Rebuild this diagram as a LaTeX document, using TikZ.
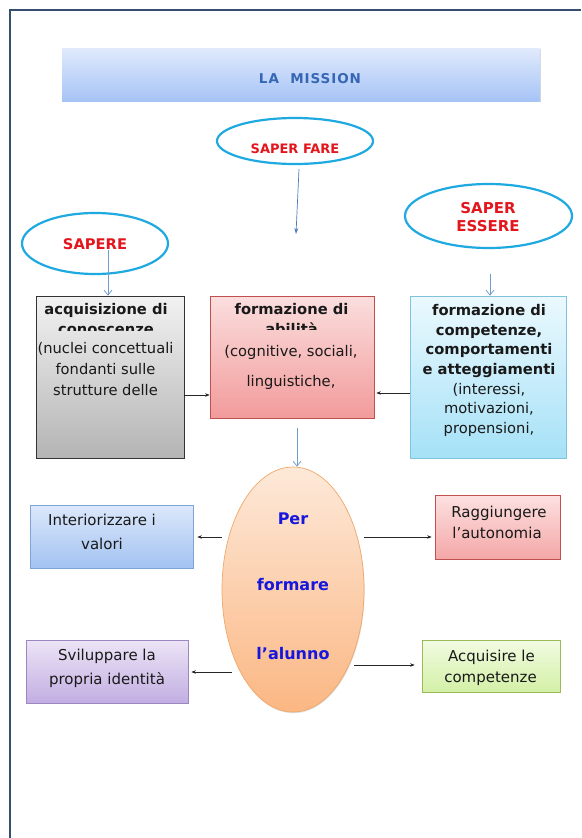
\documentclass[tikz,border=0pt]{standalone}
\usepackage{fontspec}
\setmainfont{DejaVu Sans}
\usetikzlibrary{arrows.meta,shadows,shapes.geometric}
\definecolor{framec}{HTML}{34506E}
\definecolor{ellc}{HTML}{1FA9E1}
\definecolor{sred}{HTML}{E3161D}
\definecolor{sblue}{HTML}{1616DC}
\definecolor{arrb}{HTML}{4F7BBE}
\definecolor{arrl}{HTML}{6E9BD0}
\definecolor{titc}{HTML}{3766B5}
\tikzset{
  framel/.style={draw=framec, line width=1.3pt},
  skill/.style={ellipse, draw=ellc, line width=2.2pt, fill=white, inner sep=0pt},
  skilltxt/.style={inner sep=0pt, text=sred, font=\fontsize{13}{15}\selectfont\bfseries, align=center},
  box/.style={rectangle, inner sep=0pt, line width=0.7pt,
    drop shadow={shadow xshift=0.8pt, shadow yshift=-1.3pt, opacity=0.3}},
  btxt/.style={inner sep=0pt, anchor=base, text=black!90, font=\fontsize{14.7}{18}\selectfont},
  bhead/.style={btxt, font=\fontsize{14.7}{18}\selectfont\bfseries},
  otxt/.style={inner sep=0pt, anchor=base, text=black!90, font=\fontsize{15}{18}\selectfont},
  blutxt/.style={inner sep=0pt, text=sblue, font=\fontsize{16}{18}\selectfont\bfseries},
  blk/.style={draw=black!85, line width=0.6pt, -{Stealth[length=4.5pt,width=3.5pt]}},
  fillarr/.style={draw=arrb, line width=0.7pt, -{Stealth[length=6pt,width=4pt]}},
  openarr/.style={draw=arrl, line width=0.7pt, -{Straight Barb[length=5pt,width=8pt]}},
}
\begin{document}
\begin{tikzpicture}[x=1pt,y=-1pt]
\useasboundingbox (0,0) rectangle (581,838);
\fill[white] (0,0) rectangle (581,838);
\draw[framel] (10,838) -- (10,10) -- (581,10);

% title
\node[box, top color={rgb,255:red,224;green,234;blue,252}, bottom color={rgb,255:red,166;green,196;blue,246}, draw=none, minimum width=478pt, minimum height=53pt] (title) at (301,74.5) {};
\node[inner sep=0pt, text=titc, font=\fontsize{13.5}{15}\selectfont\bfseries\addfontfeatures{LetterSpace=7}] (titletxt) at (310,79) {LA\ \ MISSION};

% skill ellipses
\node[skill, minimum width=156pt, minimum height=46pt] (sf) at (295,141) {};
\node[skilltxt] (sftxt) at (295,149) {SAPER FARE};
\node[skill, minimum width=146pt, minimum height=61pt] (sa) at (95,243.5) {};
\node[skilltxt, font=\fontsize{14.7}{16}\selectfont\bfseries] (satxt) at (95,244) {SAPERE};
\node[skill, minimum width=167pt, minimum height=64pt] (se) at (488.5,216) {};
\node[skilltxt, font=\fontsize{15}{18}\selectfont\bfseries] (setxt) at (488,217.5) {SAPER\\ESSERE};

% three boxes
\node[box, top color={rgb,255:red,242;green,242;blue,242}, bottom color={rgb,255:red,180;green,180;blue,180}, draw=black!80, minimum width=148pt, minimum height=162pt] (b1) at (110,377) {};
\node[box, top color={rgb,255:red,251;green,222;blue,222}, bottom color={rgb,255:red,242;green,155;blue,155}, draw={rgb,255:red,192;green,80;blue,77}, minimum width=164pt, minimum height=122pt] (b2) at (292,357) {};
\node[box, top color={rgb,255:red,235;green,249;blue,254}, bottom color={rgb,255:red,165;green,225;blue,247}, draw={rgb,255:red,127;green,195;blue,221}, minimum width=156pt, minimum height=162pt] (b3) at (488,377) {};

% box1 text
\node[bhead] (b1h) at (106,314.3) {acquisizione di};
\begin{scope}
\clip (37,300) rectangle (183,330.3);
\node[bhead] (b1c) at (106,334.5) {conoscenze};
\end{scope}
\node[btxt] (b1l1) at (105.5,353.3) {(nuclei concettuali};
\node[btxt] (b1l2) at (105.5,374.2) {fondanti sulle};
\node[btxt] (b1l3) at (105.5,395) {strutture delle};

% box2 text
\node[bhead] (b2h) at (291.5,314.3) {formazione di};
\begin{scope}
\clip (211,300) rectangle (373,329.3);
\node[bhead] (b2c) at (291.5,334) {abilità};
\end{scope}
\node[btxt] (b2l1) at (291,356.7) {(cognitive, sociali,};
\node[btxt] (b2l2) at (291,386.7) {linguistiche,};

% box3 text
\node[bhead] (b3l1) at (489,315.7) {formazione di};
\node[bhead] (b3l2) at (489,335.3) {competenze,};
\node[bhead] (b3l3) at (489,354.9) {comportamenti};
\node[bhead] (b3l4) at (489,374.5) {e atteggiamenti};
\node[btxt] (b3l5) at (489,394.1) {(interessi,};
\node[btxt] (b3l6) at (489,413.7) {motivazioni,};
\node[btxt] (b3l7) at (489,433.3) {propensioni,};

% big ellipse
\node[ellipse, inner sep=0pt, top color={rgb,255:red,253;green,233;blue,217}, bottom color={rgb,255:red,251;green,183;blue,131}, draw={rgb,255:red,240;green,168;blue,104}, line width=0.7pt, minimum width=142pt, minimum height=245pt,
  drop shadow={shadow xshift=0.6pt, shadow yshift=-1.2pt, opacity=0.25}] (ell) at (293,589.5) {};
\node[blutxt] (per) at (293,519) {Per};
\node[blutxt] (form) at (293,585) {formare};
\node[blutxt] (alun) at (293,654) {l’alunno};

% outcome boxes
\node[box, top color={rgb,255:red,220;green,232;blue,251}, bottom color={rgb,255:red,163;green,194;blue,242}, draw={rgb,255:red,127;green,164;blue,214}, minimum width=163pt, minimum height=63pt] (intb) at (111.5,536.5) {};
\node[otxt] (intl1) at (102,525.7) {Interiorizzare i};
\node[otxt] (intl2) at (102,549.3) {valori};
\node[box, top color={rgb,255:red,253;green,225;blue,225}, bottom color={rgb,255:red,244;green,167;blue,167}, draw={rgb,255:red,192;green,80;blue,77}, minimum width=125pt, minimum height=64pt] (ragb) at (497.5,527) {};
\node[otxt] (ragl1) at (499,517.7) {Raggiungere};
\node[otxt] (ragl2) at (497,538.5) {l’autonomia};
\node[box, top color={rgb,255:red,236;green,228;blue,246}, bottom color={rgb,255:red,194;green,174;blue,226}, draw={rgb,255:red,156;green,134;blue,194}, minimum width=162pt, minimum height=63pt] (svib) at (107,671.5) {};
\node[otxt] (svil1) at (107,660.7) {Sviluppare la};
\node[otxt] (svil2) at (107,684.3) {propria identità};
\node[box, top color={rgb,255:red,242;green,251;blue,226}, bottom color={rgb,255:red,211;green,240;blue,166}, draw={rgb,255:red,155;green,187;blue,89}, minimum width=138pt, minimum height=52pt] (acqb) at (491,666) {};
\node[otxt] (acql1) at (491.5,661.7) {Acquisire le};
\node[otxt] (acql2) at (490.5,682.7) {competenze};

% connectors
\coordinate (sfend) at (296,234);
\draw[fillarr] ([xshift=4pt,yshift=-4pt]sf.south) -- (sfend);
\coordinate (sastart) at (108,250);
\draw[openarr] (sastart) -- (sastart |- b1.north);
\coordinate (sestart) at (490,274);
\draw[openarr] (sestart) -- (sestart |- b3.north);
\draw[blk] (b1.east |- 0,395) -- (b2.west |- 0,395);
\draw[blk] (b3.west |- 0,393) -- ([xshift=2pt]b2.east |- 0,393);
\coordinate (b2start) at (297,428);
\draw[openarr] (b2start) -- (b2start |- ell.north);
\draw[blk] (ell.west |- 0,537) -- ([xshift=4pt]intb.east |- 0,537);
\draw[blk] (ell.east |- 0,537) -- ([xshift=-3pt]ragb.west |- 0,537);
\draw[blk] ([xshift=10pt]ell.west |- 0,672) -- ([xshift=3pt]svib.east |- 0,672);
\draw[blk] ([xshift=-10pt]ell.east |- 0,665) -- ([xshift=-7pt]acqb.west |- 0,665);
\end{tikzpicture}
\end{document}
